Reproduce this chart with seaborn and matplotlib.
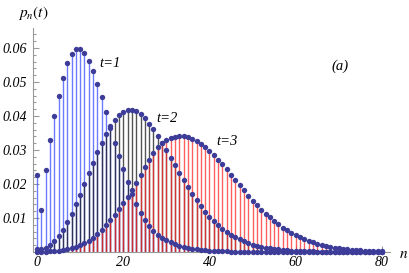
import numpy as np
import pandas as pd
import matplotlib
matplotlib.use("Agg")
import matplotlib.pyplot as plt
import seaborn as sns
from matplotlib.ticker import MultipleLocator

# values, n = 0..80
n_vals = list(range(81))

p_t1 = [0.0228, 0.0125, 0.0242, 0.0330, 0.0400, 0.0458, 0.0512, 0.0555, 0.0583, 0.0596,
        0.0596, 0.0585, 0.0563, 0.0533, 0.0495, 0.0455, 0.0411, 0.0365, 0.0322, 0.0283,
        0.0245, 0.0205, 0.0170, 0.0140, 0.0114, 0.0093, 0.0076, 0.0062, 0.0051, 0.0041,
        0.0034, 0.0028, 0.0023, 0.0018, 0.0015, 0.0012, 0.0010, 0.0008, 0.0006, 0.0005,
        0.0004, 0.0003, 0.0003, 0.0002, 0.0002, 0.0001, 0.0001, 0.0001, 0.0001, 0.0001,
        0.0, 0.0, 0.0, 0.0, 0.0, 0.0, 0.0, 0.0, 0.0, 0.0,
        0.0, 0.0, 0.0, 0.0, 0.0, 0.0, 0.0, 0.0, 0.0, 0.0,
        0.0, 0.0, 0.0, 0.0, 0.0, 0.0, 0.0, 0.0, 0.0, 0.0, 0.0]

p_t2 = [0.0008, 0.0008, 0.0013, 0.0022, 0.0033, 0.0048, 0.0066, 0.0088, 0.0113, 0.0140,
        0.0169, 0.0199, 0.0231, 0.0263, 0.0294, 0.0322, 0.0348, 0.0370, 0.0389, 0.0403,
        0.0413, 0.0418, 0.0418, 0.0414, 0.0405, 0.0393, 0.0378, 0.0361, 0.0341, 0.0321,
        0.0299, 0.0277, 0.0255, 0.0233, 0.0212, 0.0192, 0.0172, 0.0153, 0.0136, 0.0119,
        0.0104, 0.0091, 0.0079, 0.0068, 0.0059, 0.0051, 0.0043, 0.0037, 0.0031, 0.0026,
        0.0022, 0.0019, 0.0016, 0.0013, 0.0011, 0.0009, 0.0008, 0.0006, 0.0005, 0.0004,
        0.0004, 0.0003, 0.0003, 0.0002, 0.0002, 0.0001, 0.0001, 0.0001, 0.0001, 0.0001,
        0.0001, 0.0, 0.0, 0.0, 0.0, 0.0, 0.0, 0.0, 0.0, 0.0, 0.0]

p_t3 = [0.0000, 0.0001, 0.0001, 0.0002, 0.0003, 0.0004, 0.0006, 0.0008, 0.0011, 0.0015,
        0.0020, 0.0026, 0.0033, 0.0042, 0.0053, 0.0065, 0.0079, 0.0093, 0.0109, 0.0126,
        0.0144, 0.0163, 0.0182, 0.0203, 0.0226, 0.0250, 0.0272, 0.0292, 0.0308, 0.0320,
        0.0329, 0.0335, 0.0339, 0.0341, 0.0341, 0.0338, 0.0333, 0.0326, 0.0318, 0.0308,
        0.0297, 0.0285, 0.0272, 0.0258, 0.0243, 0.0228, 0.0212, 0.0197, 0.0181, 0.0166,
        0.0151, 0.0138, 0.0125, 0.0113, 0.0102, 0.0091, 0.0081, 0.0072, 0.0064, 0.0056,
        0.0049, 0.0043, 0.0037, 0.0032, 0.0028, 0.0024, 0.0021, 0.0018, 0.0015, 0.0013,
        0.0011, 0.0009, 0.0008, 0.0007, 0.0006, 0.0005, 0.0004, 0.0003, 0.0003, 0.0002, 0.0002]

series_labels = ["t=1", "t=2", "t=3"]
stem_colors = ["#3a4dff", "#1a1a1a", "#ff2a2a"]
dot_color = "#3d3d99"

df = pd.DataFrame({"n": n_vals * 3,
                   "p": p_t1 + p_t2 + p_t3,
                   "t": [s for s in series_labels for _ in n_vals]})

plt.rcParams["mathtext.fontset"] = "stix"
serif_it = dict(family="Liberation Serif", style="italic")

fig = plt.figure(figsize=(4.09, 2.73), dpi=100)
ax = fig.add_axes([33 / 409, 21 / 273, 357 / 409, 224 / 273])

# stems, drawn in order so t=3 sits on top
for lab, col in zip(series_labels, stem_colors):
    sub = df[df["t"] == lab]
    ax.vlines(sub["n"], 0, sub["p"], color=col, lw=1.0, alpha=0.75, zorder=2)

sns.scatterplot(data=df, x="n", y="p", color=dot_color, s=15, linewidth=0,
                ax=ax, zorder=3, clip_on=False, legend=False)

ax.set_xlim(-0.93, 81.86)
ax.set_ylim(0, 0.0659)

ax.xaxis.set_major_locator(MultipleLocator(20))
ax.xaxis.set_minor_locator(MultipleLocator(5))
ax.yaxis.set_major_locator(MultipleLocator(0.01))
ax.yaxis.set_minor_locator(MultipleLocator(0.002))

ax.set_yticks([0.01, 0.02, 0.03, 0.04, 0.05, 0.06])
ax.set_yticklabels(["0.01", "0.02", "0.03", "0.04", "0.05", "0.06"], **serif_it, fontsize=10)
ax.set_xticks([0, 20, 40, 60, 80])
ax.set_xticklabels(["0", "20", "40", "60", "80"], **serif_it, fontsize=10)

ax.tick_params(which="both", direction="in", color="#999999", width=0.8)
ax.tick_params(which="major", length=4)
ax.tick_params(which="minor", length=2.2)
ax.tick_params(axis="y", pad=4)
ax.tick_params(axis="x", pad=3)

for side in ["top", "right"]:
    ax.spines[side].set_visible(False)
for side in ["left", "bottom"]:
    ax.spines[side].set_color("#999999")
    ax.spines[side].set_linewidth(0.8)

ax.set_xlabel("")
ax.set_ylabel("")

ax.text(16.9, 0.0556, "t=1", fontsize=10.5, ha="center", va="center", **serif_it)
ax.text(30.2, 0.0394, "t=2", fontsize=10.5, ha="center", va="center", **serif_it)
ax.text(44.1, 0.0324, "t=3", fontsize=10.5, ha="center", va="center", **serif_it)
ax.text(70.3, 0.0547, "(a)", fontsize=10.5, ha="center", va="center", **serif_it)

fig.text(33 / 409, 1 - 13 / 273, r"$p_n(t)$", fontsize=11, ha="center", va="center")
fig.text(404 / 409, 1 - 254 / 273, r"$n$", fontsize=11, ha="center", va="center")

fig.savefig("out.png", dpi=100)
